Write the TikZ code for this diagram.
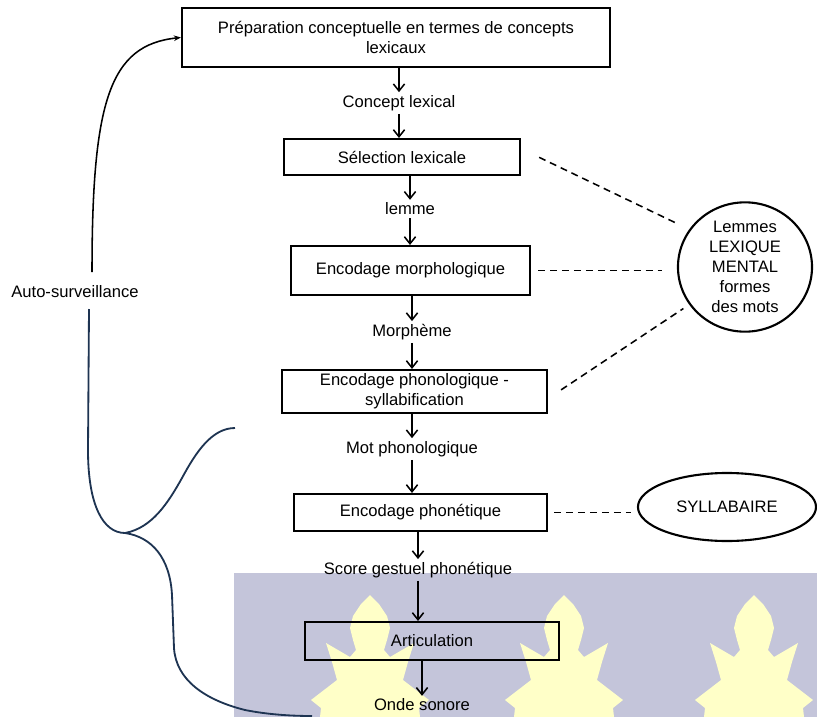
\documentclass[tikz,border=0pt]{standalone}
\usepackage{fontspec}
\setmainfont{Liberation Sans}
\usetikzlibrary{arrows.meta,shapes.geometric,calc,positioning}
\definecolor{BandColor}{RGB}{196,197,218}
\definecolor{LeafColor}{RGB}{255,255,200}
\definecolor{TraceColor}{RGB}{30,52,82}
\newcommand{\leafoutline}{(0,595) -- (9,604) -- (17,616) -- (20,628) -- (17,640)
  -- (14,650) -- (20,657) -- (44,643) -- (38,662) -- (33,680) -- (59,700) -- (49,708)
  -- (50,717) -- (-50,717) -- (-49,708) -- (-59,700) -- (-33,680) -- (-38,662)
  -- (-44,643) -- (-20,657) -- (-14,650) -- (-17,640) -- (-20,628) -- (-17,616)
  -- (-9,604) -- cycle}
\tikzset{
  stage/.style={draw, line width=1.5pt, align=center, inner sep=2pt},
  tag/.style={inner sep=2pt},
  flow/.style={line width=1.1pt, -{Straight Barb[length=5pt,width=8pt]}},
  link/.style={line width=1.1pt, dash pattern=on 5pt off 3.5pt},
  store/.style={draw, ellipse, line width=1.5pt, align=center, inner sep=0pt},
  trace/.style={TraceColor, line width=1.3pt},
}
\begin{document}
\begin{tikzpicture}[x=0.025cm, y=-0.025cm, font=\fontsize{11.8}{14.2}\selectfont]
\useasboundingbox (0,0) rectangle (817,717);
% watermark band
\fill[BandColor] (234,573) rectangle (817,717);
\fill[LeafColor, shift={(370,0)}] \leafoutline;
\fill[LeafColor, shift={(564,0)}] \leafoutline;
\fill[LeafColor, shift={(754,0)}] \leafoutline;
% stages
\node[stage, minimum width=10.7cm, minimum height=1.475cm] (prep) at (396,37.5)
  {Préparation conceptuelle en termes de concepts\\lexicaux};
\node[tag] (concept) at (399,103) {Concept lexical};
\node[stage, minimum width=5.9cm, minimum height=0.9cm] (selection) at (402,157) {Sélection lexicale};
\node[tag] (lemme) at (410,209) {lemme};
\node[stage, minimum width=5.975cm, minimum height=1.225cm] (morpho) at (410.5,270.5) {Encodage morphologique};
\node[tag] (morpheme) at (412,332) {Morphème};
\node[stage, minimum width=6.625cm, minimum height=1.075cm] (phono) at (414.5,391.5)
  {Encodage phonologique -\\syllabification};
\node[tag] (motphono) at (412,449) {Mot phonologique};
\node[stage, minimum width=6.325cm, minimum height=0.925cm] (phonet) at (420.5,512.5) {Encodage phonétique};
\node[tag] (score) at (418,570) {Score gestuel phonétique};
\node[stage, minimum width=6.35cm, minimum height=0.95cm] (artic) at (432,641) {Articulation};
\node[tag] (onde) at (422,705) {Onde sonore};
% stores
\node[store, minimum width=3.35cm, minimum height=3.05cm] (lexique) at (745,267)
  {Lemmes\\LEXIQUE\\MENTAL\\formes\\des mots};
\node[store, minimum width=4.45cm, minimum height=1.7cm] (syllab) at (727,507) {SYLLABAIRE};
\node (auto) at (75,292) {Auto-surveillance};
% arrows
\draw[flow] (prep.south -| concept) -- (concept.north);
\draw[flow] (concept.south) -- (concept.south |- selection.north);
\draw[flow] (selection.south -| lemme) -- (lemme.north);
\draw[flow] (lemme.south) -- (lemme.south |- morpho.north);
\draw[flow] (morpho.south -| morpheme) -- (morpheme.north);
\draw[flow] (morpheme.south) -- (morpheme.south |- phono.north);
\draw[flow] (phono.south -| motphono) -- (motphono.north);
\draw[flow] (motphono.south) -- (motphono.south |- phonet.north);
\draw[flow] (phonet.south -| score) -- (score.north);
\draw[flow] (score.south) -- (score.south |- artic.north);
\draw[flow] (artic.south -| onde) -- (onde.north);
% dashed links
\draw[link, shorten <=0.5cm, shorten >=0.36cm] (selection.4) -- (lexique.146);
\draw[link, shorten <=0.175cm, shorten >=0.375cm] (morpho.east) -- (morpho.east -| lexique.west);
\draw[link, shorten <=0.39cm, shorten >=0.175cm] (phono.-3) -- (lexique.214);
\draw[link, shorten <=0.15cm, shorten >=0.15cm] (phonet.east) -- (phonet.east -| syllab.west);
% self-monitoring loop
\coordinate (loopstart) at (92,272);
\coordinate (loopend) at (89,309);
\coordinate (fork) at (125,533);
\draw[line width=1.1pt, -{Stealth[length=5pt,width=4pt]}] (loopstart) .. controls (92,100) and (110,45) .. (prep.west);
\draw[trace] (loopend) -- (88,450) .. controls (88,505) and (103,533) .. (fork);
\draw[trace] (fork) .. controls (152,528) and (168,503) .. (182,478)
  .. controls (196,452) and (212,428) .. (235,428);
\draw[trace] (fork) .. controls (152,537) and (170,558) .. (172,595) -- (174,648)
  .. controls (176,680) and (205,700) .. (245,710) .. controls (270,715) and (295,716) .. (312,716);
\end{tikzpicture}
\end{document}
